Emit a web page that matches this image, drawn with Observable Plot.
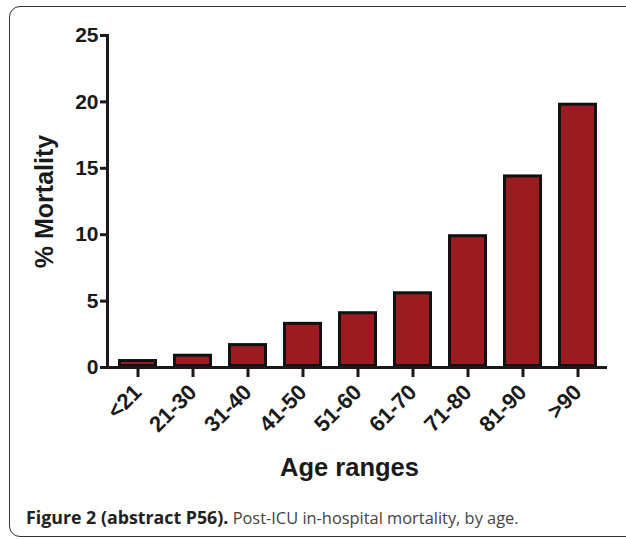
<!DOCTYPE html>
<html>
<head>
<meta charset="utf-8">
<script src="https://cdn.jsdelivr.net/npm/d3@7"></script>
<script src="https://cdn.jsdelivr.net/npm/@observablehq/plot@0.6"></script>
<style>
  html, body { margin: 0; padding: 0; background: #fff; }
  #wrap { position: relative; width: 626px; height: 540px; overflow: hidden; background: #fff; }
  #box { position: absolute; left: 9px; top: 6px; width: 630px; height: 531px; border: 1.3px solid #333; border-radius: 11px; box-sizing: border-box; }
  #chart { position: absolute; left: 0; top: 0; }
  #caption { position: absolute; left: 26px; top: 505px; font-family: "Open Sans", sans-serif; font-size: 16.4px; color: #444; white-space: nowrap; letter-spacing: 0px; }
  #caption b { color: #222; font-weight: 700; font-size: 17.8px; }
</style>
</head>
<body>
<div id="wrap">
  <div id="box"></div>
  <div id="chart"></div>
  <div id="caption"><b>Figure 2 (abstract P56).</b> Post-ICU in-hospital mortality, by age.</div>
</div>
<script>
const ageRanges = ["<21", "21-30", "31-40", "41-50", "51-60", "61-70", "71-80", "81-90", ">90"];
const mortality = [0.6, 1.0, 1.8, 3.4, 4.2, 5.7, 10.0, 14.5, 19.9];
const yTicks = [0, 5, 10, 15, 20, 25];
const yLabel = "% Mortality";
const xLabel = "Age ranges";

const data = ageRanges.map((a, i) => ({age: a, value: mortality[i]}));
const font = "'Liberation Sans', Arial, sans-serif";

const chart = Plot.plot({
  width: 626,
  height: 500,
  marginLeft: 107,
  marginRight: 19,
  marginTop: 35,
  marginBottom: 133,
  style: {fontFamily: font, background: "transparent", color: "#1a1a1a"},
  x: {domain: ageRanges, paddingInner: 0.3, paddingOuter: 0.17},
  y: {domain: [0, 25]},
  marks: [
    Plot.barY(data, {x: "age", y: "value", fill: "#9b1c20", stroke: "#111", strokeWidth: 3, inset: 1.5}),
    Plot.axisY({ticks: yTicks, tickSize: 7, strokeWidth: 3, tickPadding: 2, fontSize: 21, fontWeight: "bold", label: null}),
    Plot.axisX({tickSize: 10, strokeWidth: 3, tickRotate: -45, tickPadding: 11, fontSize: 22, fontWeight: "bold", label: null}),
    Plot.ruleY([0], {stroke: "#1a1a1a", strokeWidth: 3}),
    Plot.frame({anchor: "left", stroke: "#1a1a1a", strokeWidth: 3}),
    Plot.text([yLabel], {text: d => d, frameAnchor: "left", textAnchor: "middle", dx: -63, dy: 0, rotate: -90, fontSize: 25, fontWeight: "bold", fill: "#1a1a1a"}),
    Plot.text([xLabel], {text: d => d, frameAnchor: "bottom", textAnchor: "middle", dx: -8, dy: 108, fontSize: 25.5, fontWeight: "bold", fill: "#1a1a1a"})
  ]
});
document.getElementById("chart").appendChild(chart);
</script>
</body>
</html>
